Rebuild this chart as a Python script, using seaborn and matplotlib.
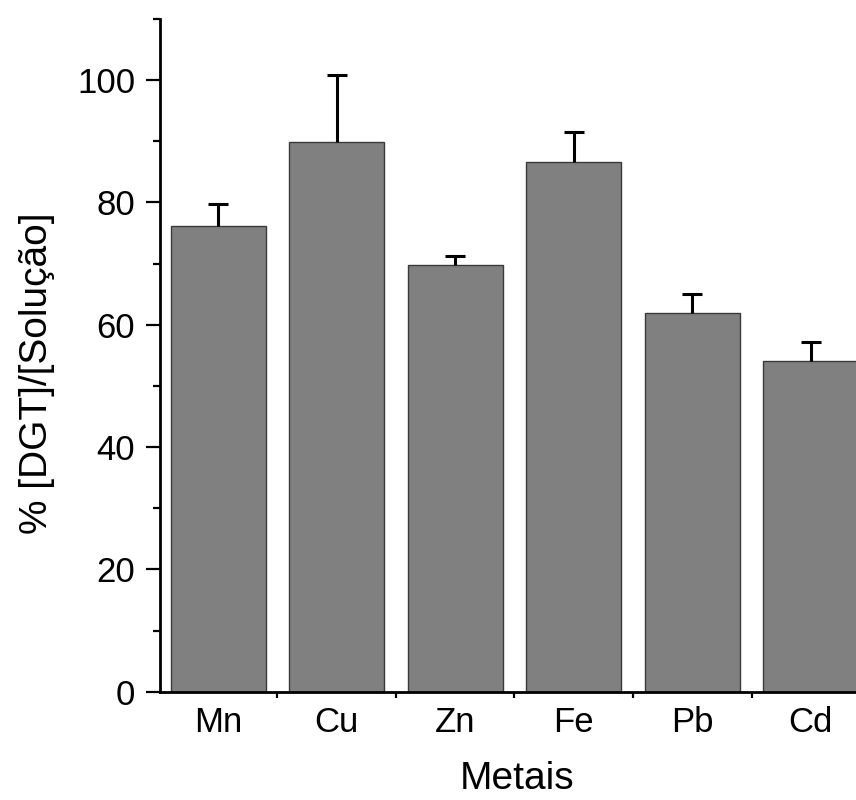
import pandas as pd
import matplotlib.pyplot as plt
import seaborn as sns
from matplotlib.ticker import MultipleLocator, FixedLocator

sns.set_style("ticks")
plt.rcParams["font.family"] = ["Liberation Sans", "DejaVu Sans"]
plt.rcParams["text.color"] = "black"
plt.rcParams["axes.labelcolor"] = "black"
plt.rcParams["xtick.color"] = "black"
plt.rcParams["ytick.color"] = "black"
plt.rcParams["axes.edgecolor"] = "black"

metais = ["Mn", "Cu", "Zn", "Fe", "Pb", "Cd"]
razao = [76.1, 89.8, 69.8, 86.6, 62.0, 54.0]
erro = [3.7, 11.0, 1.4, 4.9, 3.0, 3.2]

df = pd.DataFrame({"Metal": metais, "Razao": razao, "Erro": erro})

fig = plt.figure(figsize=(8.56, 8.0), dpi=100)
ax = fig.add_axes([0.187, 0.1354, 0.8294, 0.8409])

sns.barplot(data=df, x="Metal", y="Razao", color="#808080", saturation=1,
            width=0.8, edgecolor="#3a3a3a", linewidth=1.0, errorbar=None, ax=ax)

# só a parte de cima da barra de erro (estilo Origin)
_, caps, _ = ax.errorbar(range(len(metais)), df["Razao"],
                         yerr=[[0] * len(erro), df["Erro"]],
                         fmt="none", ecolor="black", elinewidth=2.2,
                         capsize=7.5, capthick=2.2)
caps[0].set_visible(False)

ax.set_xlim(-0.49, 5.5)
ax.set_ylim(0, 110)
ax.yaxis.set_major_locator(MultipleLocator(20))
ax.yaxis.set_minor_locator(MultipleLocator(10))
ax.xaxis.set_minor_locator(FixedLocator([0.5, 1.5, 2.5, 3.5, 4.5]))

ax.tick_params(axis="y", which="major", direction="out", length=10, width=1.6,
               labelsize=25, pad=8)
ax.tick_params(axis="y", which="minor", direction="out", length=5, width=1.6)
ax.tick_params(axis="x", which="major", direction="in", length=6, width=1.6,
               labelsize=25, pad=10)
ax.tick_params(axis="x", which="minor", direction="out", length=4, width=1.6)

sns.despine(ax=ax)
for s in ["left", "bottom"]:
    ax.spines[s].set_linewidth(2.0)

ax.set_xlabel("Metais", fontsize=28)
ax.set_ylabel("% [DGT]/[Solução]", fontsize=28)
ax.xaxis.set_label_coords(0.503, -0.103)
ax.yaxis.set_label_coords(-0.148, 0.474)

plt.savefig("out.png", dpi=100)
